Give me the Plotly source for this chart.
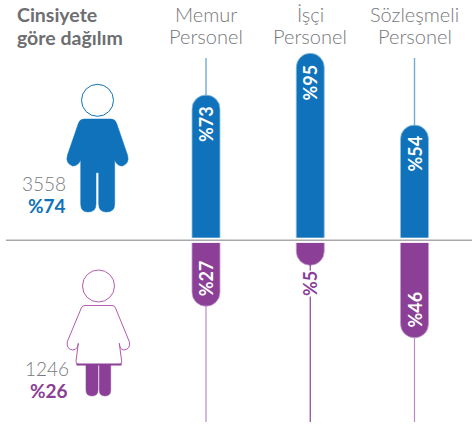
import plotly.graph_objects as go

W, H = 472, 430
categories = ["Memur<br>Personel", "İşçi<br>Personel", "Sözleşmeli<br>Personel"]
male_pct = [73, 95, 54]
female_pct = [27, 5, 46]
# bar lengths (the original is not strictly proportional)
male_len = [142.7, 184.4, 112.7]
female_len = [63.4, 22.4, 95.0]
male_count, female_count = 3558, 1246
male_share, female_share = 74, 26

BLUE, PURPLE = "#1072ba", "#8b3f96"
BLUE_L, PURPLE_L = "#8fc0e4", "#c39fcf"
GREY = "#77787b"
FONT = "Lato"

ZERO = 240.3
ML, MR, MT, MB = 6, 0, 48, 8
PW, PH = W - ML - MR, H - MT - MB
STEP = 104.25
xr = [(ML - 206) / STEP, (W - 206) / STEP]
yr = [ZERO - (H - MB), ZERO - MT]
BASE = 2.6
CAP = 14
STEM_TOP, STEM_BOTTOM = 182.3, -181.7
idx = list(range(len(categories)))


def X(v):
    return (v - ML) / PW


def Y(v):
    return 1 - (v - MT) / PH


def P(s):
    """Icon outline written in picture pixels -> paper coordinates."""
    out = []
    is_x = True
    for t in s.split():
        if t.isalpha():
            out.append(t)
            is_x = True
        else:
            v = float(t)
            out.append(f"{X(v):.5f}" if is_x else f"{Y(v):.5f}")
            is_x = not is_x
    return " ".join(out)


fig = go.Figure()
for i in idx:
    if male_len[i] + BASE < STEM_TOP:
        fig.add_trace(go.Scatter(x=[i, i], y=[STEM_TOP, male_len[i] + BASE - 1], mode="lines",
                                 line=dict(color="#6fabd9", width=1.4), hoverinfo="skip", showlegend=False))
    fig.add_trace(go.Scatter(x=[i, i], y=[-(female_len[i] + BASE - 1), STEM_BOTTOM], mode="lines",
                             line=dict(color=PURPLE if female_len[i] < 30 else "#b88bc6", width=1.2),
                             hoverinfo="skip", showlegend=False))

bw = 28 / STEP
fig.add_trace(go.Bar(x=idx, y=[v + BASE for v in male_len], width=bw, marker=dict(color=BLUE, cornerradius=CAP,
                     line=dict(color=BLUE_L, width=0.8)), showlegend=False))
fig.add_trace(go.Bar(x=idx, y=[-(v + BASE) for v in female_len], width=bw, marker=dict(color=PURPLE, cornerradius=CAP,
                     line=dict(color=PURPLE_L, width=0.8)), showlegend=False))
# white gap either side of the divider
fig.add_trace(go.Bar(x=idx, y=[2 * BASE] * 3, base=-BASE, width=bw + 2 / STEP,
                     marker=dict(color="white", line=dict(width=0)), showlegend=False))

ann = []
for i in idx:
    ann.append(dict(x=i, y=male_len[i] + BASE - 29, xref="x", yref="y", text=f"%{male_pct[i]}", textangle=-90,
                    showarrow=False, font=dict(family=FONT, size=18, color="white", weight=700)))
    inside = female_len[i] > 30
    ann.append(dict(x=i, y=-(female_len[i] + BASE - 28) if inside else -(female_len[i] + BASE + 18.5),
                    xref="x", yref="y", text=f"%{female_pct[i]}", textangle=-90, showarrow=False,
                    bgcolor=None if inside else "white", borderpad=0,
                    font=dict(family=FONT, size=18, color="white" if inside else PURPLE, weight=700)))
    for line_text, ypx in zip(categories[i].split("<br>"), (14, 36)):
        ann.append(dict(x=i, y=Y(ypx), xref="x", yref="paper", text=line_text, yanchor="middle", showarrow=False,
                        borderpad=0, font=dict(family=FONT, size=20, color=GREY, weight=300)))


def label(text, xpx, ypx, anchor, size, color, weight):
    ann.append(dict(x=X(xpx), y=Y(ypx), xref="paper", yref="paper", text=text, xanchor=anchor, yanchor="middle",
                    showarrow=False, borderpad=0, font=dict(family=FONT, size=size, color=color, weight=weight)))


label("Cinsiyete", 16, 14.5, "left", 19.5, "#6d6e71", 700)
label("göre dağılım", 16, 37, "left", 19.5, "#6d6e71", 700)
label(str(male_count), 67, 183, "right", 19, GREY, 300)
label(f"%{male_share}", 67, 205, "right", 19, BLUE, 700)
label(str(female_count), 70, 368, "right", 19, GREY, 300)
label(f"%{female_share}", 69, 390, "right", 19, PURPLE, 700)

MAN = ("M 84 119 L 111 119 Q 115 119 116.5 123 L 127.5 155 Q 130 163 122.5 166 Q 117 166 114.7 160 "
       "L 114.7 204 Q 114.7 212 106.5 212 Q 98.7 212 98.7 204 L 98.7 172.7 L 96 172.7 L 96 204 "
       "Q 96 212 88 212 Q 80.7 212 80.7 204 L 80.7 160 Q 78 166 72.5 166 Q 65 163 67.5 155 "
       "L 78.5 123 Q 80 119 84 119 Z")
DRESS = ("M 85 305.5 L 112 305.5 Q 114.5 305.5 115.5 308 L 129.3 341.7 Q 131 349 124 350 Q 119.5 349.5 119.3 343.3 "
         "L 121.7 361.5 Q 122 364.5 119 364.5 L 79 364.5 Q 75.7 364.5 76 361.5 L 78.3 343.3 Q 78 349.5 72.7 350 "
         "Q 66 349 67.3 341.7 L 81.3 308 Q 82.5 305.5 85 305.5 Z")
LEG1 = "M 86 364 L 98 364 L 98 390 Q 98 396 92 396 Q 86 396 86 390 Z"
LEG2 = "M 99.3 364 L 110.7 364 L 110.7 390 Q 110.7 396 105 396 Q 99.3 396 99.3 390 Z"
HEM = "M 76.5 363.5 L 121.5 363.5 L 121.5 365.5 L 76.5 365.5 Z"

pp = dict(xref="paper", yref="paper")
shapes = [
    dict(type="line", xref="paper", yref="y", x0=0, x1=1, y0=0, y1=0, line=dict(color="#a7a9ac", width=1.5), layer="above"),
    dict(type="circle", x0=X(81.5), x1=X(113.5), y0=Y(116.3), y1=Y(84.3), line=dict(color=BLUE, width=1), fillcolor="white", **pp),
    dict(type="path", path=P(MAN), fillcolor=BLUE, line=dict(color=BLUE, width=0.5), **pp),
    dict(type="circle", x0=X(82.5), x1=X(114.5), y0=Y(302), y1=Y(270), line=dict(color="#b45bad", width=1), fillcolor="white", **pp),
    dict(type="path", path=P(LEG1), fillcolor=PURPLE, line=dict(color=PURPLE, width=0.5), **pp),
    dict(type="path", path=P(LEG2), fillcolor=PURPLE, line=dict(color=PURPLE, width=0.5), **pp),
    dict(type="path", path=P(DRESS), fillcolor="white", line=dict(color="#b45bad", width=1), **pp),
    dict(type="path", path=P(HEM), fillcolor=PURPLE, line=dict(width=0), **pp),
]

fig.update_layout(
    width=W, height=H, margin=dict(l=ML, r=MR, t=MT, b=MB, pad=0), paper_bgcolor="white", plot_bgcolor="white",
    barmode="overlay", showlegend=False, annotations=ann, shapes=shapes,
    xaxis=dict(range=xr, visible=False, showgrid=False, zeroline=False, fixedrange=True),
    yaxis=dict(range=yr, visible=False, showgrid=False, zeroline=False, fixedrange=True),
)
fig.write_html("out.html", config=dict(displayModeBar=False),
               post_script="document.body.style.margin='0';document.documentElement.style.overflow='hidden';")
